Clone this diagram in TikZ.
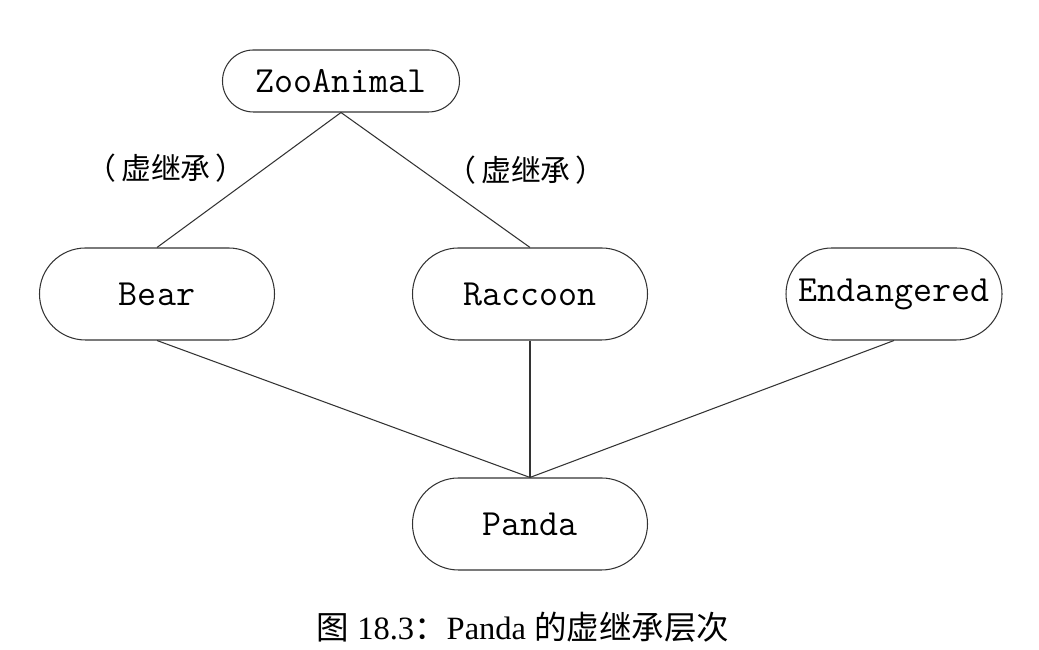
\documentclass[tikz,border=0pt]{standalone}
\usepackage{fontspec}
\setmainfont{Liberation Serif}
\newfontfamily\cjk{Noto Sans CJK SC}
\usetikzlibrary{shapes.misc}

\begin{document}
\begin{tikzpicture}[
        cls/.style={rounded rectangle, draw=black!80, line width=0.6pt,
            minimum width=4.7cm, minimum height=1.84cm, inner sep=0pt,
            font=\ttfamily\fontsize{21}{22}\selectfont},
        link/.style={draw=black!80, line width=0.6pt},
        note/.style={font=\cjk\fontsize{17}{19}\selectfont}
    ]
        \useasboundingbox (0,0) rectangle (20.78,13);

        % Base class
        \node[cls, minimum width=4.74cm, minimum height=1.24cm] (zoo) at (6.82,11.38) {ZooAnimal};

        % Middle row
        \foreach \x/\name/\txt in {3.14/bear/Bear, 10.6/raccoon/Raccoon} {
            \node[cls] (\name) at (\x,7.12) {\txt};
        }
        \node[cls, minimum width=4.32cm] (endangered) at (17.88,7.12) {Endangered};

        % Derived class
        \node[cls] (panda) at (10.6,2.52) {Panda};

        % Virtual inheritance edges
        \draw[link] (zoo.south) -- (bear.north);
        \draw[link] (zoo.south) -- (raccoon.north);
        \node[note] (vleft) at (3.32,9.64) {（\,虚继承\,）};
        \node[note] (vright) at (10.52,9.6) {（\,虚继承\,）};

        % Edges to Panda
        \foreach \name in {bear, raccoon, endangered} {
            \draw[link] (\name.south) -- (panda.north);
        }

        % Caption
        \node[font=\fontsize{18.5}{20}\selectfont] (caption) at (10.46,0.46)
            {{\cjk 图} 18.3{\cjk ：}Panda {\cjk 的虚继承层次}};
    \end{tikzpicture}
\end{document}
